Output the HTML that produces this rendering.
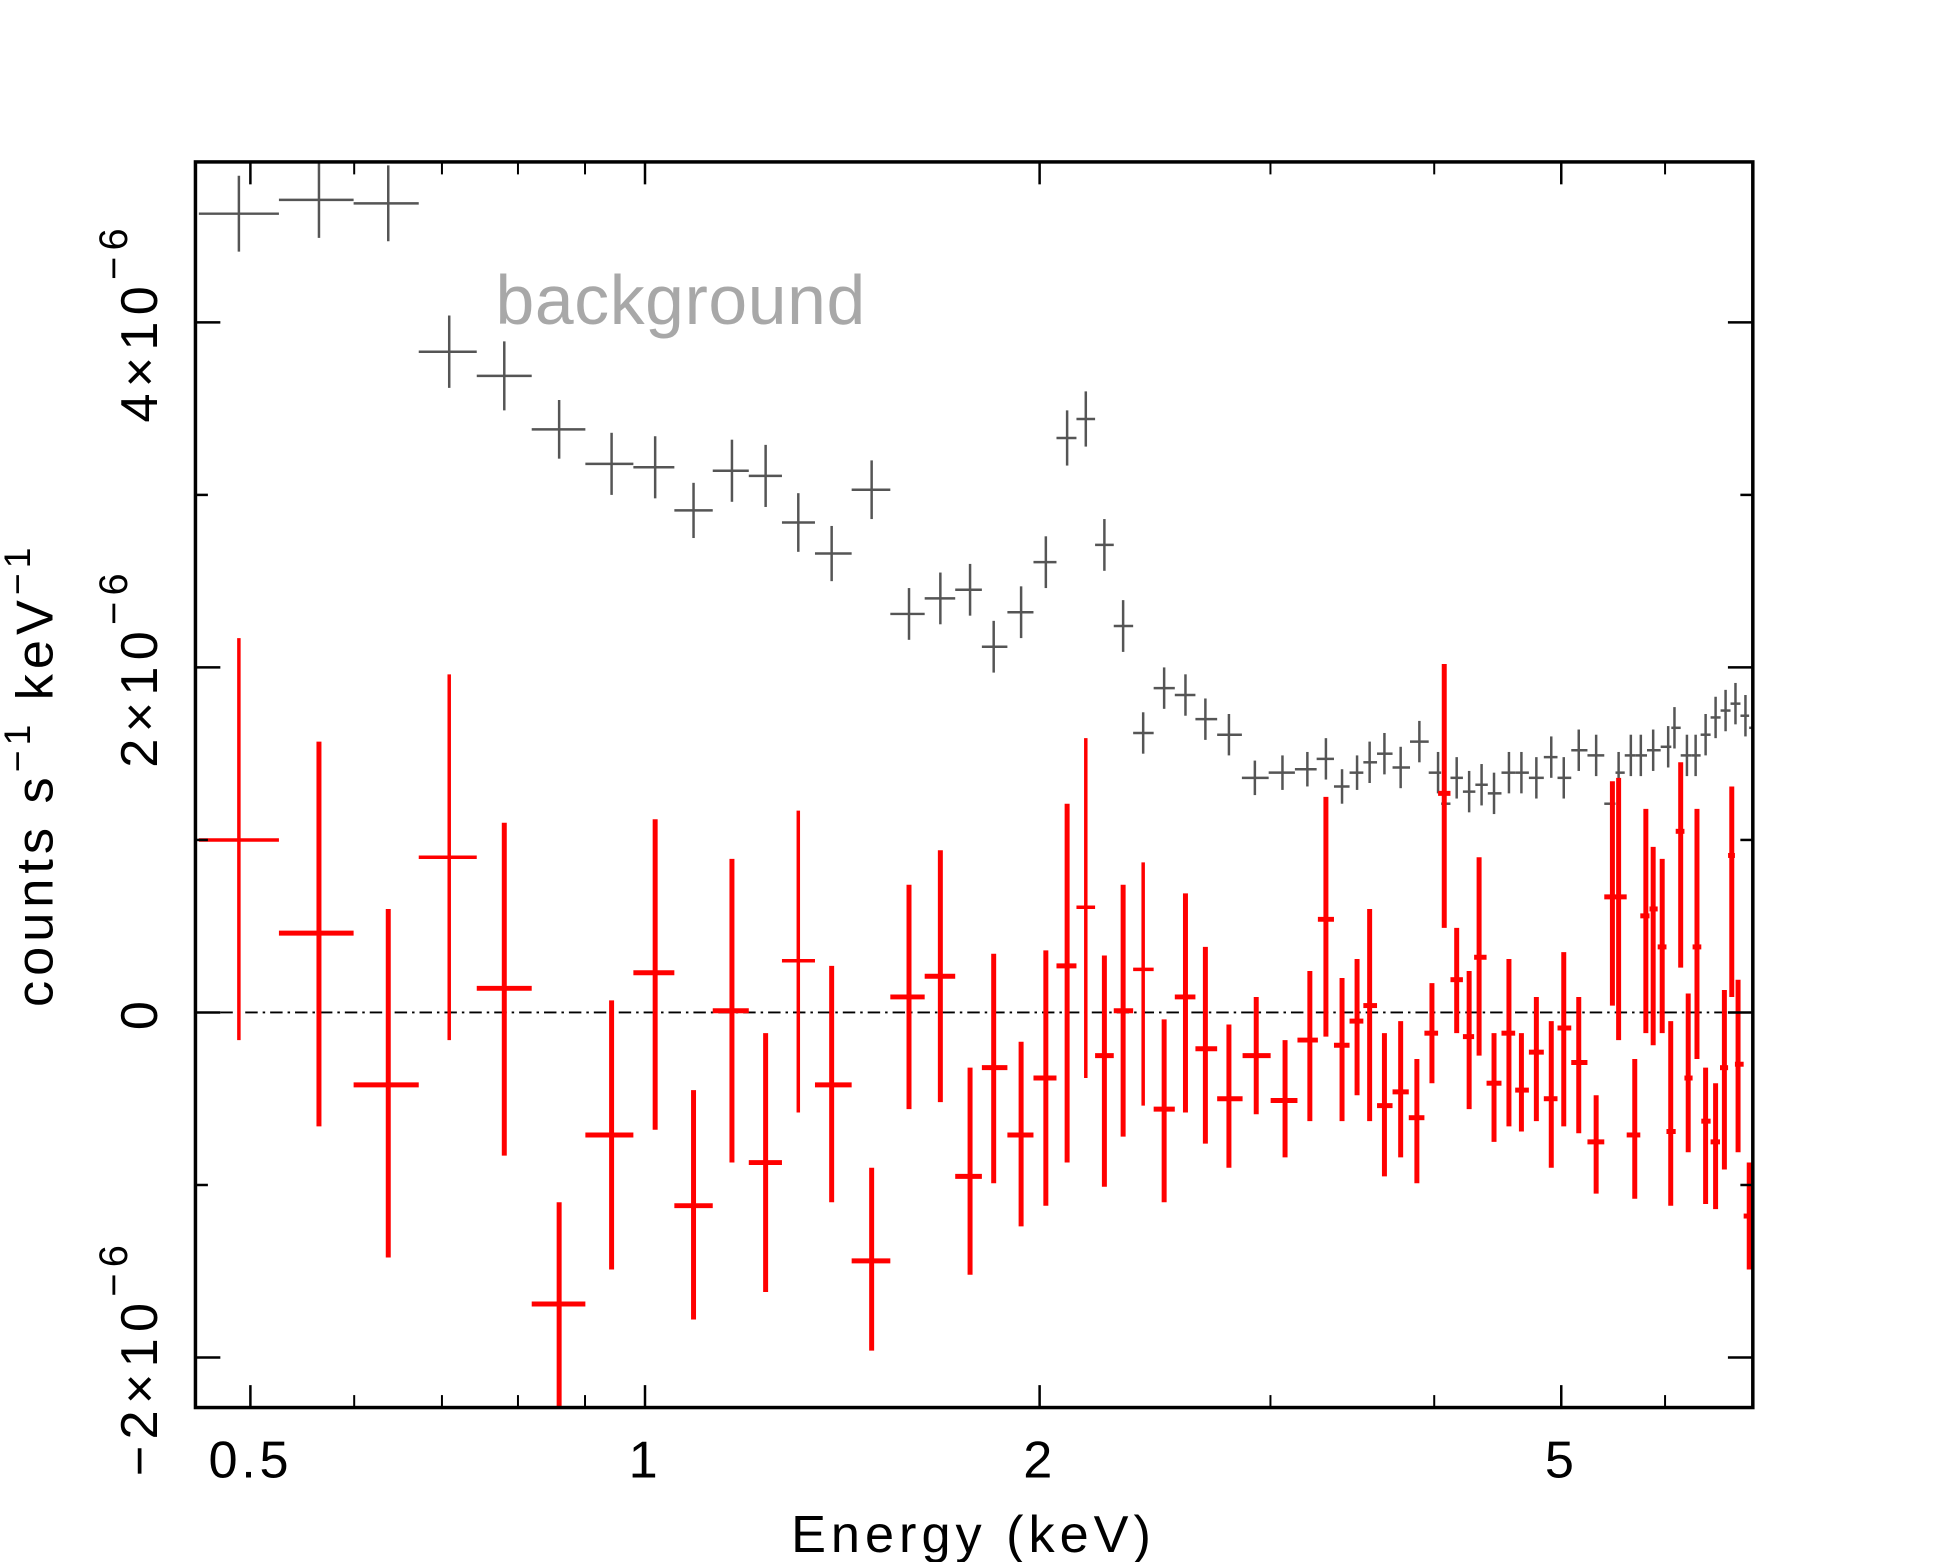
<!DOCTYPE html>
<html><head><meta charset="utf-8">
<style>
html,body{margin:0;padding:0;background:#fff;}
svg{display:block;}
text{font-family:"Liberation Sans",sans-serif;}
</style></head>
<body>
<svg id="chart" width="1952" height="1562" viewBox="0 0 1568 1254" preserveAspectRatio="none" xmlns="http://www.w3.org/2000/svg">
<rect x="0" y="0" width="1568" height="1254" fill="#fff"/>
<g id="marks"></g>
<g id="axes"></g>
<text x="398" y="260" font-size="56" fill="#a8a8a8" letter-spacing="0.5">background</text>
<text x="782" y="1246" font-size="42" text-anchor="middle" fill="#000" letter-spacing="4">Energy (keV)</text>
<text transform="translate(42,622) rotate(-90)" font-size="42" text-anchor="middle" fill="#000" letter-spacing="4">counts s<tspan dy="-18" font-size="30">−1</tspan><tspan dy="18">  keV</tspan><tspan dy="-18" font-size="30">−1</tspan></text>
</svg>
<script>
// ---- data ----
const bgEnergy = [0.490,0.564,0.637,0.709,0.781,0.860,0.943,1.018,1.089,1.165,1.236,1.309,1.388,1.489,1.590,1.680,1.770,1.845,1.936,2.022,2.099,2.169,2.241,2.316,2.399,2.489,2.584,2.676,2.789,2.919,3.064,3.201,3.307,3.402,3.493,3.571,3.665,3.771,3.897,4.027,4.071,4.161,4.253,4.347,4.443,4.561,4.662,4.786,4.913,5.022,5.156,5.316,5.470,5.530,5.650,5.750,5.876,6.033,6.100,6.235,6.331,6.443,6.557,6.673,6.790,6.910,7.0];
const bgRate = [4.63,4.71,4.69,3.83,3.69,3.38,3.18,3.16,2.91,3.14,3.11,2.84,2.66,3.03,2.31,2.40,2.45,2.12,2.32,2.61,3.33,3.44,2.71,2.24,1.62,1.88,1.84,1.70,1.61,1.36,1.39,1.41,1.47,1.31,1.39,1.45,1.50,1.42,1.57,1.39,1.21,1.36,1.28,1.32,1.27,1.39,1.39,1.36,1.48,1.36,1.52,1.49,1.21,1.39,1.49,1.49,1.52,1.54,1.65,1.49,1.49,1.61,1.71,1.75,1.79,1.72,1.65];
const bgErr = [0.22,0.22,0.22,0.21,0.2,0.17,0.18,0.18,0.16,0.18,0.18,0.17,0.16,0.17,0.15,0.15,0.15,0.15,0.15,0.15,0.16,0.16,0.15,0.15,0.12,0.12,0.12,0.12,0.12,0.1,0.1,0.1,0.12,0.1,0.1,0.12,0.12,0.12,0.12,0.12,0.1,0.12,0.12,0.12,0.12,0.12,0.12,0.12,0.12,0.12,0.12,0.12,0.1,0.12,0.12,0.12,0.12,0.12,0.12,0.12,0.12,0.12,0.12,0.12,0.12,0.12,0.12];
const srcEnergy = [0.490,0.564,0.637,0.709,0.781,0.860,0.943,1.018,1.089,1.165,1.236,1.309,1.388,1.489,1.590,1.680,1.770,1.845,1.936,2.022,2.099,2.169,2.241,2.316,2.399,2.489,2.584,2.676,2.789,2.926,3.078,3.215,3.307,3.402,3.493,3.571,3.665,3.771,3.880,3.984,4.071,4.161,4.253,4.328,4.443,4.561,4.662,4.786,4.913,5.022,5.156,5.316,5.470,5.530,5.689,5.801,5.876,5.970,6.060,6.167,6.249,6.346,6.443,6.557,6.659,6.746,6.821,6.956];
const srcRate = [1.0,0.46,-0.42,0.90,0.14,-1.69,-0.71,0.23,-1.12,0.01,-0.87,0.30,-0.42,-1.44,0.09,0.21,-0.95,-0.32,-0.71,-0.38,0.27,0.61,-0.25,0.01,0.25,-0.56,0.09,-0.21,-0.50,-0.25,-0.51,-0.16,0.54,-0.19,-0.05,0.04,-0.54,-0.46,-0.61,-0.12,1.27,0.19,-0.14,0.32,-0.41,-0.12,-0.45,-0.23,-0.50,-0.09,-0.29,-0.75,0.67,0.67,-0.71,0.56,0.60,0.38,-0.69,1.05,-0.38,0.38,-0.63,-0.75,-0.32,0.91,-0.30,-1.18];
const srcHi = [2.17,1.57,0.60,1.96,1.10,-1.10,0.07,1.12,-0.45,0.89,-0.12,1.17,0.27,-0.90,0.74,0.94,-0.32,0.34,-0.17,0.36,1.21,1.59,0.33,0.74,0.87,-0.04,0.69,0.38,-0.07,0.09,-0.16,0.24,1.25,0.20,0.31,0.60,-0.12,-0.05,-0.27,0.17,2.02,0.49,0.24,0.90,-0.12,0.31,-0.12,0.09,-0.05,0.35,0.09,-0.48,1.34,1.36,-0.27,1.18,0.96,0.89,-0.05,1.45,0.11,1.18,-0.32,-0.41,0.13,1.31,0.19,-0.87];
const srcLo = [-0.16,-0.66,-1.42,-0.16,-0.83,-2.4,-1.49,-0.68,-1.78,-0.87,-1.62,-0.58,-1.10,-1.96,-0.56,-0.52,-1.52,-0.99,-1.24,-1.12,-0.87,-0.38,-1.01,-0.72,-0.54,-1.10,-0.58,-0.76,-0.90,-0.59,-0.84,-0.63,-0.14,-0.63,-0.48,-0.63,-0.95,-0.84,-0.99,-0.41,0.49,-0.12,-0.56,-0.25,-0.75,-0.66,-0.69,-0.63,-0.90,-0.66,-0.70,-1.05,0.04,-0.16,-1.08,-0.12,-0.19,-0.12,-1.12,0.26,-0.81,-0.27,-1.11,-1.14,-0.91,0.09,-0.81,-1.49];
const xMajorTicks = [0.5,1,2,5];
const xMajorLabels = ["0.5","1","2","5"];
const xMinorTicks = [0.6,0.7,0.8,0.9,3,4,6,7];
const yTicks = [-2,-1,0,1,2,3,4];
const yLabelVals = [-2,0,2,4];
const yLabels = ["−2×10","0","2×10","4×10"];

// ---- scales ----
const L=157,R=1408,T=130,B=1130;
const xMin=0.454,xMax=7.0,yMin=-2.29,yMax=4.93;
const xs=e=>L+(Math.log10(e)-Math.log10(xMin))/(Math.log10(xMax)-Math.log10(xMin))*(R-L);
const ys=v=>B-(v-yMin)/(yMax-yMin)*(B-T);
const NS="http://www.w3.org/2000/svg";
const marks=document.getElementById('marks'), axes=document.getElementById('axes');
function line(p,x1,y1,x2,y2,c,w,extra){const l=document.createElementNS(NS,'line');l.setAttribute('x1',x1);l.setAttribute('y1',y1);l.setAttribute('x2',x2);l.setAttribute('y2',y2);l.setAttribute('stroke',c);l.setAttribute('stroke-width',w);if(extra)l.setAttribute('stroke-dasharray',extra);p.appendChild(l);return l;}
function edges(E){const lo=[],hi=[];for(let i=0;i<E.length;i++){lo.push(i===0?Math.max(xMin,E[0]*E[0]/Math.sqrt(E[0]*E[1])):Math.sqrt(E[i-1]*E[i]));hi.push(i===E.length-1?Math.min(xMax,E[i]):Math.sqrt(E[i]*E[i+1]));}return [lo,hi];}
const clampY=v=>Math.max(T,Math.min(B,ys(v)));

// zero line
const z=line(marks,L,ys(0),R,ys(0),'#000',1.5,'10,4,2,4');



// background series
const [bl,bh]=edges(bgEnergy);
bgEnergy.forEach((e,i)=>{
  const g=document.createElementNS(NS,'g');
  
  
  line(g,xs(bl[i]),ys(bgRate[i]),xs(bh[i]),ys(bgRate[i]),'#555',2);
  line(g,xs(e),clampY(bgRate[i]+bgErr[i]),xs(e),clampY(bgRate[i]-bgErr[i]),'#555',2);
  marks.appendChild(g);
});
// source series
const [sl,sh]=edges(srcEnergy);
srcEnergy.forEach((e,i)=>{
  const g=document.createElementNS(NS,'g');
  
  
  const w=(i===0||i===3||i===11||i===24||i===21)?2.8:4;
  line(g,xs(sl[i]),ys(srcRate[i]),xs(sh[i]),ys(srcRate[i]),'#ff0000',w);
  line(g,xs(e),clampY(srcHi[i]),xs(e),clampY(srcLo[i]),'#ff0000',w);
  marks.appendChild(g);
});

// frame
const fr=document.createElementNS(NS,'rect');
fr.setAttribute('x',L);fr.setAttribute('y',T);fr.setAttribute('width',R-L);fr.setAttribute('height',B-T);
fr.setAttribute('fill','none');fr.setAttribute('stroke','#000');fr.setAttribute('stroke-width',2.8);


axes.appendChild(fr);
// x ticks
xMajorTicks.forEach((t,i)=>{
  const x=xs(t);
  line(axes,x,B,x,B-18,'#000',2);line(axes,x,T,x,T+18,'#000',2);
  const tx=document.createElementNS(NS,'text');
  tx.setAttribute('x',x);tx.setAttribute('y',1186);tx.setAttribute('font-size','42');tx.setAttribute('text-anchor','middle');tx.setAttribute('letter-spacing','3');
  
  
  tx.textContent=xMajorLabels[i];axes.appendChild(tx);
});
xMinorTicks.forEach(t=>{const x=xs(t);line(axes,x,B,x,B-10,'#000',1.6);line(axes,x,T,x,T+10,'#000',1.6);});
// y ticks
yTicks.forEach(t=>{const y=ys(t);const len=(t%2===0)?20:10;line(axes,L,y,L+len,y,'#000',2);line(axes,R,y,R-len,y,'#000',2);});
yLabelVals.forEach((v,i)=>{
  const tx=document.createElementNS(NS,'text');
  tx.setAttribute('transform',`translate(126,${ys(v)}) rotate(-90)`);
  tx.setAttribute('font-size','42');tx.setAttribute('text-anchor','middle');tx.setAttribute('letter-spacing','5');
  
  
  tx.textContent=yLabels[i];
  if(v!==0){const sp=document.createElementNS(NS,'tspan');sp.setAttribute('dy','-24');sp.setAttribute('font-size','32');sp.textContent='−6';tx.appendChild(sp);}
  axes.appendChild(tx);
});
</script>
</body></html>
